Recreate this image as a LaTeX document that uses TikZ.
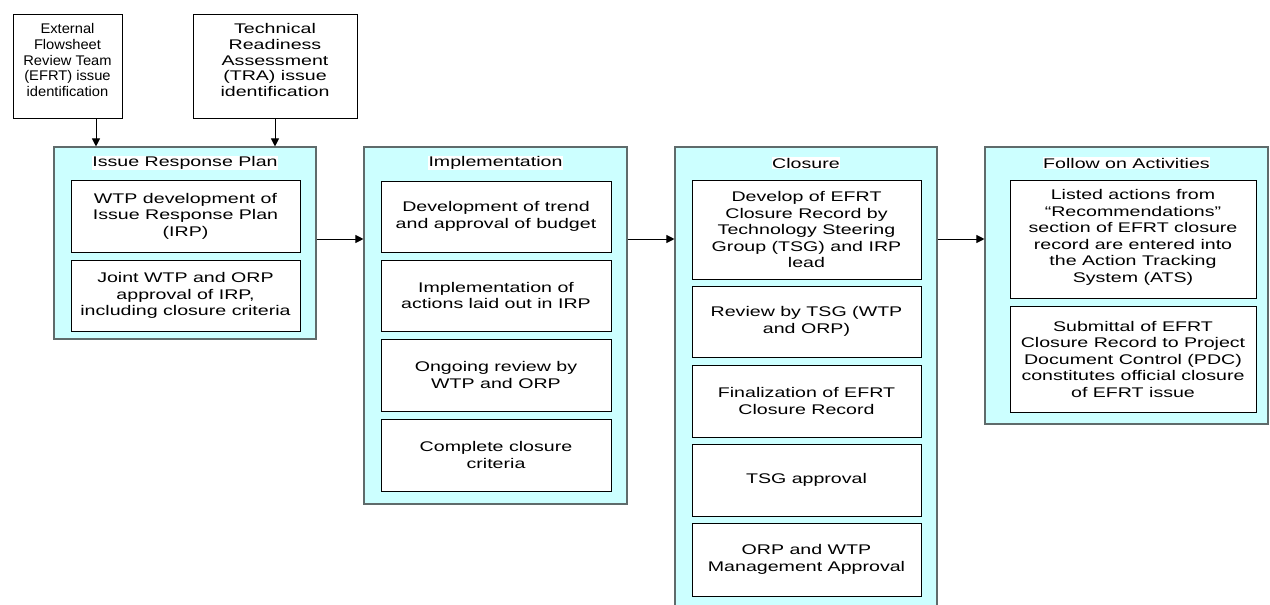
\documentclass[tikz,border=0pt]{standalone}
\usepackage{fontspec}
\setmainfont{Liberation Sans}
\newfontfamily\widefont{Liberation Sans}[FakeStretch=1.4]
\newfontfamily\narrowfont{Liberation Sans}[FakeStretch=1.05]
\usetikzlibrary{arrows.meta}
\definecolor{cyanbg}{HTML}{CCFFFF}
\definecolor{grpline}{HTML}{5F6B6B}
\tikzset{
  grp/.style={draw=grpline, fill=cyanbg, line width=1.1pt, inner sep=0pt},
  inbox/.style={draw=black, fill=white, line width=0.9pt, inner sep=0pt, align=center,
     font=\widefont\fontsize{14}{16.5}\selectfont},
  srcbox/.style={draw=black, fill=white, line width=0.9pt, inner sep=0pt, align=center,
     font=\narrowfont\fontsize{14}{15.8}\selectfont},
  srcboxwide/.style={srcbox, font=\widefont\fontsize{14}{15.8}\selectfont},
  ttl/.style={fill=white, inner sep=0.6pt, font=\widefont\fontsize{14}{16.5}\selectfont},
  arr/.style={-{Triangle[length=8pt,width=8pt]}, line width=1pt, draw=black}
}
\begin{document}
\begin{tikzpicture}[x=1pt,y=-1pt]
\useasboundingbox (0,0) rectangle (1270,605);
\clip (0,0) rectangle (1270,605);
% top source boxes
\node[srcbox, minimum width=109pt, minimum height=104pt] (A) at (67.5,66)
  {External\\Flowsheet\\Review Team\\(EFRT) issue\\identification\\[-4pt]\mbox{}};
\node[srcboxwide, minimum width=164pt, minimum height=104pt] (B) at (275,66)
  {Technical\\Readiness\\Assessment\\(TRA) issue\\identification\\[-4pt]\mbox{}};
% groups
\node[grp, minimum width=262pt, minimum height=192pt] (G1) at (185,243) {};
\node[grp, minimum width=263pt, minimum height=357pt] (G2) at (495.5,325.5) {};
\node[grp, minimum width=262pt, minimum height=465pt] (G3) at (806,379.5) {};
\node[grp, minimum width=283pt, minimum height=277pt] (G4) at (1126.5,285.5) {};
% titles
\node[ttl] (T1) at (185,163) {Issue Response Plan};
\node[ttl] (T2) at (495.5,163) {Implementation};
\node[ttl] (T3) at (806,163) {Closure};
\node[ttl] (T4) at (1126.5,163) {Follow on Activities};
% group 1
\node[inbox, minimum width=229pt, minimum height=72pt] (G1a) at (185.5,216)
  {WTP development of\\Issue Response Plan\\(IRP)};
\node[inbox, minimum width=229pt, minimum height=71pt] (G1b) at (185.5,295.5)
  {Joint WTP and ORP\\approval of IRP,\\including closure criteria};
% group 2
\node[inbox, minimum width=230pt, minimum height=71pt] (G2a) at (496,216.5)
  {Development of trend\\and approval of budget};
\node[inbox, minimum width=230pt, minimum height=71pt] (G2b) at (496,295.5)
  {Implementation of\\actions laid out in IRP};
\node[inbox, minimum width=230pt, minimum height=72pt] (G2c) at (496,375)
  {Ongoing review by\\WTP and ORP};
\node[inbox, minimum width=230pt, minimum height=72pt] (G2d) at (496,455)
  {Complete closure\\criteria};
% group 3
\node[inbox, minimum width=229pt, minimum height=99pt] (G3a) at (806.5,229.5)
  {Develop of EFRT\\Closure Record by\\Technology Steering\\Group (TSG) and IRP\\lead};
\node[inbox, minimum width=229pt, minimum height=71pt] (G3b) at (806.5,321.5)
  {Review by TSG (WTP\\and ORP)};
\node[inbox, minimum width=229pt, minimum height=72pt] (G3c) at (806.5,401)
  {Finalization of EFRT\\Closure Record};
\node[inbox, minimum width=229pt, minimum height=72pt] (G3d) at (806.5,480)
  {TSG approval};
\node[inbox, minimum width=229pt, minimum height=73pt] (G3e) at (806.5,559.5)
  {ORP and WTP\\Management Approval};
% group 4
\node[inbox, minimum width=246pt, minimum height=118pt] (G4a) at (1133,239)
  {Listed actions from\\“Recommendations”\\section of EFRT closure\\record are entered into\\the Action Tracking\\System (ATS)\\[-10pt]\mbox{}};
\node[inbox, minimum width=246pt, minimum height=106pt] (G4b) at (1133,359)
  {Submittal of EFRT\\Closure Record to Project\\Document Control (PDC)\\constitutes official closure\\of EFRT issue};
% connectors
\coordinate (ax) at (96,0);
\coordinate (ay) at (0,239);
\draw[arr] (A.south -| ax) -- (G1.north -| ax);
\draw[arr] (B.south) -- (G1.north -| B.south);
\draw[arr] (G1.east |- ay) -- (G2.west |- ay);
\draw[arr] (G2.east |- ay) -- (G3.west |- ay);
\draw[arr] (G3.east |- ay) -- (G4.west |- ay);
\end{tikzpicture}
\end{document}
